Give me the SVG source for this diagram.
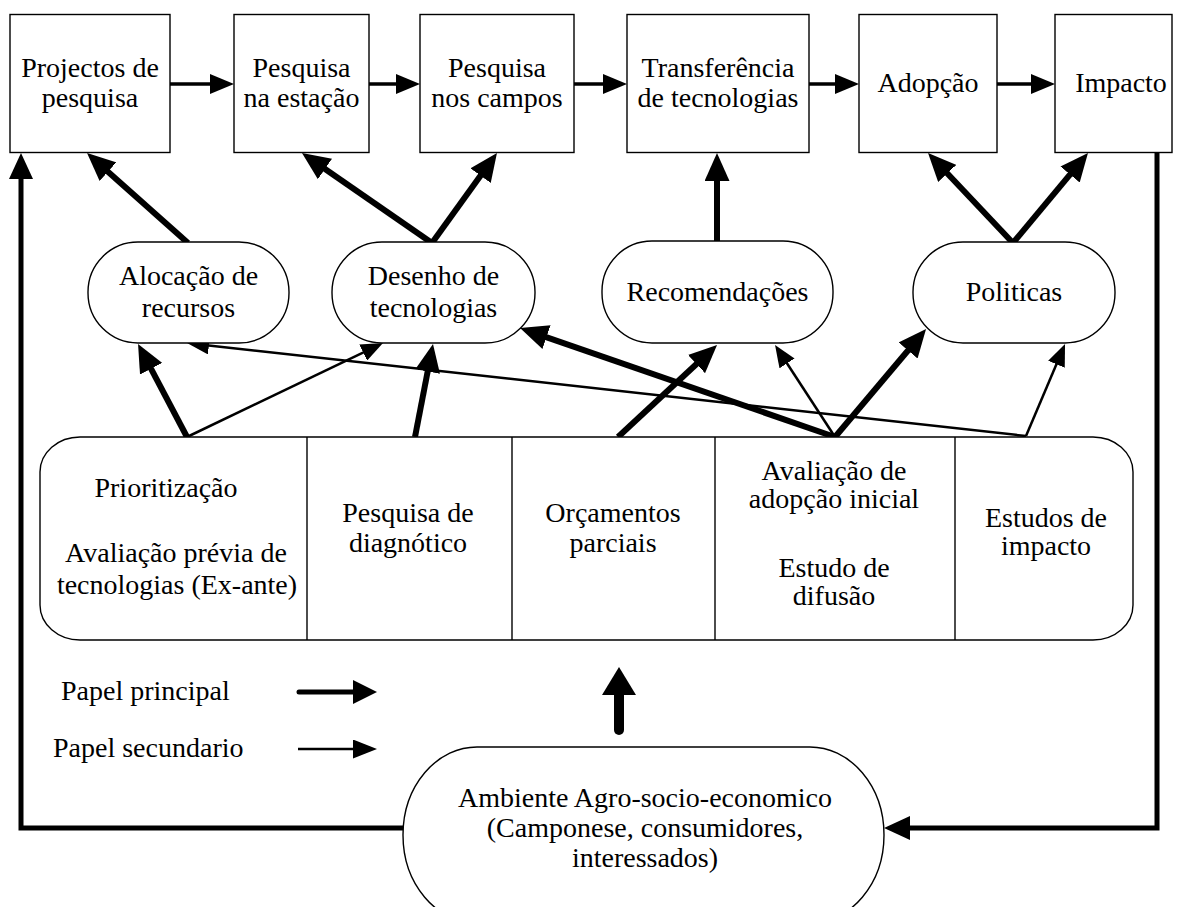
<svg xmlns="http://www.w3.org/2000/svg" width="1184" height="907" viewBox="0 0 1184 907">
<style>
.box{fill:#fff;stroke:#000;stroke-width:1.4}
.t{font-family:"Liberation Serif","Times New Roman",serif;font-size:28px;fill:#000;text-anchor:middle}
.ts{font-family:"Liberation Serif","Times New Roman",serif;font-size:28px;fill:#000}
.c{fill:none;stroke:#000}
.top{stroke-width:3.3}
.thick{stroke-width:6}
.thin{stroke-width:2.5}
.fb{stroke-width:5}
</style>
<defs>
<marker id="mTop" markerUnits="userSpaceOnUse" markerWidth="24" markerHeight="20" refX="18" refY="10" orient="auto"><path d="M0,0 L24,10 L0,20 z" fill="#000"/></marker>
<marker id="mThick" markerUnits="userSpaceOnUse" markerWidth="28" markerHeight="25" refX="18" refY="12.5" orient="auto"><path d="M0,0 L28,12.5 L0,25 z" fill="#000"/></marker>
<marker id="mThin" markerUnits="userSpaceOnUse" markerWidth="22" markerHeight="18" refX="16" refY="9" orient="auto"><path d="M0,0 L22,9 L0,18 z" fill="#000"/></marker>
<marker id="mFb" markerUnits="userSpaceOnUse" markerWidth="26" markerHeight="24" refX="18" refY="12" orient="auto"><path d="M0,0 L26,12 L0,24 z" fill="#000"/></marker>
<marker id="mUp" markerUnits="userSpaceOnUse" markerWidth="28" markerHeight="34" refX="16" refY="17" orient="auto"><path d="M0,0 L28,17 L0,34 z" fill="#000"/></marker>
<marker id="mLeg" markerUnits="userSpaceOnUse" markerWidth="24" markerHeight="24" refX="14" refY="12" orient="auto"><path d="M0,0 L24,12 L0,24 z" fill="#000"/></marker>
<marker id="mLeg2" markerUnits="userSpaceOnUse" markerWidth="24" markerHeight="19" refX="18" refY="9.5" orient="auto"><path d="M0,0 L24,9.5 L0,19 z" fill="#000"/></marker>
</defs>
<rect width="1184" height="907" fill="#fff"/>

<g id="connectors">
<line class="c top" x1="170" y1="84" x2="228" y2="84" marker-end="url(#mTop)"/>
<line class="c top" x1="369" y1="84" x2="414" y2="84" marker-end="url(#mTop)"/>
<line class="c top" x1="574" y1="84" x2="621" y2="84" marker-end="url(#mTop)"/>
<line class="c top" x1="809" y1="84" x2="853" y2="84" marker-end="url(#mTop)"/>
<line class="c top" x1="997" y1="84" x2="1049" y2="84" marker-end="url(#mTop)"/>

<line class="c thick" x1="188" y1="243" x2="94.5" y2="159.7" marker-end="url(#mThick)"/>
<line class="c thick" x1="432" y1="243" x2="310.2" y2="158.7" marker-end="url(#mThick)"/>
<line class="c thick" x1="432" y1="243" x2="491.1" y2="161.1" marker-end="url(#mThick)"/>
<line class="c thick" x1="717" y1="241" x2="717" y2="163" marker-end="url(#mThick)"/>
<line class="c thick" x1="1013" y1="243" x2="934.9" y2="160.3" marker-end="url(#mThick)"/>
<line class="c thick" x1="1013" y1="243" x2="1081.6" y2="160.7" marker-end="url(#mThick)"/>

<line class="c thick" x1="187" y1="437" x2="142.7" y2="352.8" marker-end="url(#mThick)"/>
<line class="c thin" x1="187" y1="437" x2="377.6" y2="345.6" marker-end="url(#mThin)"/>
<line class="c thick" x1="415" y1="437" x2="431.1" y2="353.8" marker-end="url(#mThick)"/>
<line class="c thin" x1="1026" y1="436" x2="193" y2="343.7" marker-end="url(#mThin)"/>
<line class="c thin" x1="1026" y1="436" x2="1062.7" y2="349.5" marker-end="url(#mThin)"/>
<line class="c thick" x1="835" y1="437" x2="529.5" y2="331.3" marker-end="url(#mThick)"/>
<line class="c thin" x1="835" y1="437" x2="778.3" y2="350" marker-end="url(#mThin)"/>
<line class="c thick" x1="835" y1="437" x2="919.6" y2="336.7" marker-end="url(#mThick)"/>
<line class="c thick" x1="618" y1="437" x2="709.7" y2="351.8" marker-end="url(#mThick)"/>

<path class="c fb" d="M403,828 L21,828 L21,161" marker-end="url(#mFb)"/>
<path class="c fb" d="M1157,152 L1157,828 L892,828" marker-end="url(#mFb)"/>
<line class="c" stroke-width="10" stroke-linecap="round" x1="619" y1="730" x2="619" y2="679" marker-end="url(#mUp)"/>

<line class="c" stroke-width="5" stroke-linecap="round" x1="299" y1="692" x2="367" y2="692" marker-end="url(#mLeg)"/>
<line class="c" stroke-width="2.5" x1="298" y1="749" x2="371" y2="749" marker-end="url(#mLeg2)"/>
</g>

<g id="n-projectos"><rect class="box" x="10" y="14.5" width="160" height="138"/><text class="t" x="90" y="77">Projectos de</text><text class="t" x="90" y="107">pesquisa</text></g>
<g id="n-estacao"><rect class="box" x="234" y="14.5" width="135" height="138"/><text class="t" x="301.5" y="77">Pesquisa</text><text class="t" x="301.5" y="107">na estação</text></g>
<g id="n-campos"><rect class="box" x="420" y="14.5" width="154" height="138"/><text class="t" x="497" y="77">Pesquisa</text><text class="t" x="497" y="107">nos campos</text></g>
<g id="n-transferencia"><rect class="box" x="627" y="14.5" width="182" height="138"/><text class="t" x="718" y="77">Transferência</text><text class="t" x="718" y="107">de tecnologias</text></g>
<g id="n-adopcao"><rect class="box" x="859" y="14.5" width="138" height="138"/><text class="t" x="928" y="92">Adopção</text></g>
<g id="n-impacto"><rect class="box" x="1055" y="14.5" width="117" height="138"/><text class="t" x="1121" y="92">Impacto</text></g>

<g id="n-alocacao"><rect class="box" x="88" y="242" width="201" height="101" rx="50" ry="50"/><text class="t" x="188.5" y="285">Alocação de</text><text class="t" x="188.5" y="317">recursos</text></g>
<g id="n-desenho"><rect class="box" x="332" y="242" width="203" height="101" rx="50" ry="50"/><text class="t" x="433.5" y="285">Desenho de</text><text class="t" x="433.5" y="317">tecnologias</text></g>
<g id="n-recomendacoes"><rect class="box" x="602" y="241" width="231" height="102" rx="50" ry="50"/><text class="t" x="717.5" y="301">Recomendações</text></g>
<g id="n-politicas"><rect class="box" x="913" y="242" width="202" height="101" rx="50" ry="50"/><text class="t" x="1014" y="301">Politicas</text></g>

<g id="n-metodos">
<rect class="box" x="40" y="437" width="1093" height="203" rx="40" ry="35"/>
<line class="c" stroke-width="1.4" x1="307" y1="437" x2="307" y2="640"/>
<line class="c" stroke-width="1.4" x1="512" y1="437" x2="512" y2="640"/>
<line class="c" stroke-width="1.4" x1="715" y1="437" x2="715" y2="640"/>
<line class="c" stroke-width="1.4" x1="955" y1="437" x2="955" y2="640"/>
<text class="t" x="166" y="497">Prioritização</text>
<text class="t" x="176" y="562">Avaliação prévia de</text>
<text class="t" x="177" y="594">tecnologias (Ex-ante)</text>
<text class="t" x="408" y="522">Pesquisa de</text>
<text class="t" x="408" y="552">diagnótico</text>
<text class="t" x="613" y="522">Orçamentos</text>
<text class="t" x="613" y="552">parciais</text>
<text class="t" x="834" y="480">Avaliação de</text>
<text class="t" x="834" y="508">adopção inicial</text>
<text class="t" x="834" y="577">Estudo de</text>
<text class="t" x="834" y="605">difusão</text>
<text class="t" x="1046" y="527">Estudos de</text>
<text class="t" x="1046" y="555">impacto</text>
</g>

<g id="n-ambiente"><rect class="box" x="403" y="747" width="481" height="176" rx="74" ry="88"/><text class="t" x="645" y="807">Ambiente Agro-socio-economico</text><text class="t" x="645" y="837">(Camponese, consumidores,</text><text class="t" x="645" y="867">interessados)</text></g>

<g id="legend"><text class="ts" x="61" y="700">Papel principal</text><text class="ts" x="53" y="757">Papel secundario</text></g>
</svg>
